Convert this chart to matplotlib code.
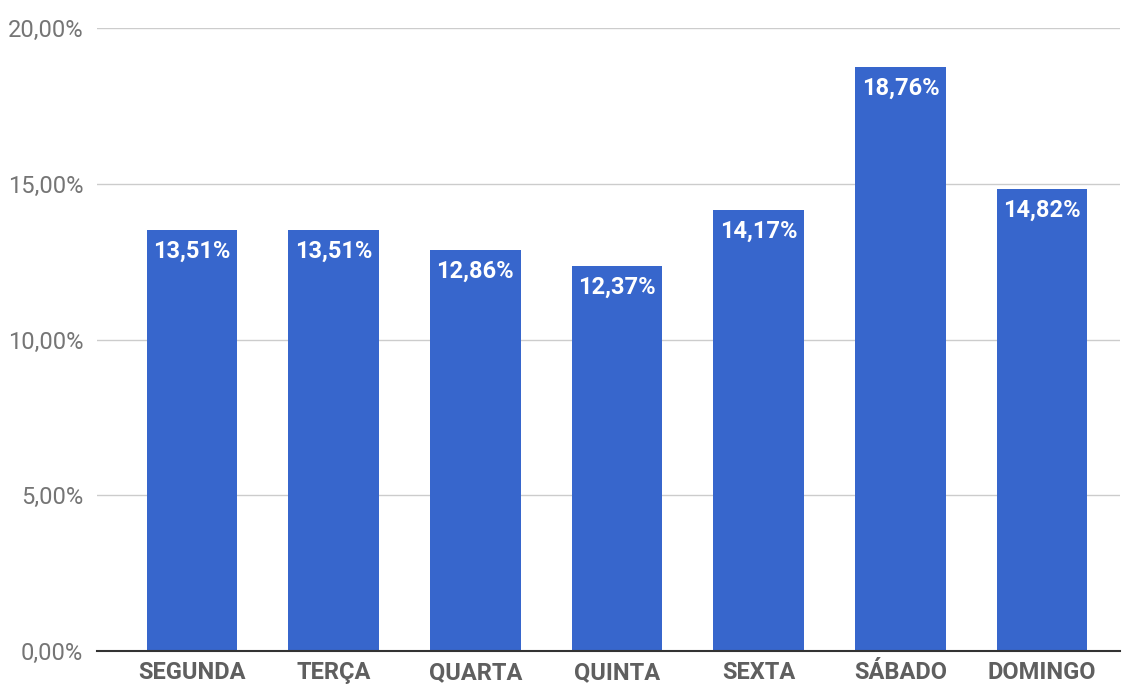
import matplotlib.pyplot as plt
from matplotlib.ticker import FuncFormatter

dias = ['SEGUNDA', 'TERÇA', 'QUARTA', 'QUINTA', 'SEXTA', 'SÁBADO', 'DOMINGO']
valores = [13.51, 13.51, 12.86, 12.37, 14.17, 18.76, 14.82]
yticks = [0, 5, 10, 15, 20]

plt.rcParams['font.family'] = ['Roboto', 'DejaVu Sans']

fig = plt.figure(figsize=(11.26, 6.84), dpi=100)
ax = fig.add_axes([97/1126, 33/684, (1120-97)/1126, (651-28)/684])

x = range(len(dias))
bars = ax.bar(x, valores, width=0.64, color='#3766cc', zorder=3)

for xi, v in zip(x, valores):
    ax.annotate(f'{v:.2f}%'.replace('.', ','), (xi, v), xytext=(0, -7),
                textcoords='offset points', ha='center', va='top',
                color='white', fontsize=17, fontweight='bold', zorder=4)

ax.set_xlim(-0.67, 6.55)
ax.set_ylim(0, 20)
ax.set_yticks(yticks)
ax.yaxis.set_major_formatter(FuncFormatter(lambda v, p: f'{v:.2f}%'.replace('.', ',')))
ax.set_xticks(list(x))
ax.set_xticklabels(dias, fontweight='bold')

ax.grid(axis='y', color='#cccccc', linewidth=1, zorder=0)
for s in ['top', 'right', 'left']:
    ax.spines[s].set_visible(False)
ax.spines['bottom'].set_color('#333333')
ax.spines['bottom'].set_linewidth(1.5)
ax.spines['bottom'].set_zorder(5)

ax.tick_params(axis='y', length=0, pad=10, labelsize=17, labelcolor='#757575')
ax.tick_params(axis='x', length=0, pad=7, labelsize=17, labelcolor='#5f5f5f')

fig.savefig('out.png', dpi=100)
